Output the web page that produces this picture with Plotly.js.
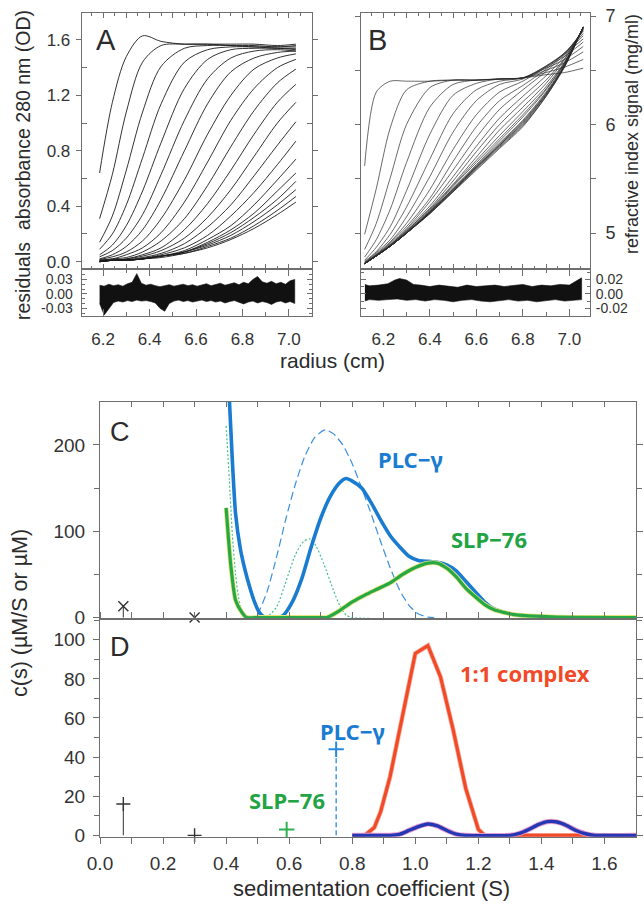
<!DOCTYPE html>
<html><head><meta charset="utf-8">
<script src="https://cdn.plot.ly/plotly-3.0.1.min.js"></script>
<style>html,body{margin:0;padding:0;background:#fff;}#chart{width:644px;height:907px;}</style>
</head><body><div id="chart"></div>
<script>
// ---------- Panel A: absorbance scans ----------
const radiusA = [6.185, 6.24, 6.30, 6.37, 6.45, 6.55, 6.65, 6.75, 6.85, 6.95, 7.03];
const scanA01 = [0.64, 1.15, 1.48, 1.63, 1.59, 1.57, 1.57, 1.57, 1.57, 1.56, 1.57];
const scanA02 = [0.31, 0.63, 1.08, 1.44, 1.56, 1.57, 1.57, 1.56, 1.56, 1.55, 1.56];
const scanA03 = [0.14, 0.33, 0.66, 1.08, 1.41, 1.54, 1.56, 1.56, 1.55, 1.55, 1.55];
const scanA04 = [0.09, 0.20, 0.41, 0.75, 1.14, 1.44, 1.53, 1.55, 1.55, 1.54, 1.54];
const scanA05 = [0.05, 0.12, 0.26, 0.51, 0.86, 1.25, 1.46, 1.53, 1.54, 1.54, 1.53];
const scanA06 = [0.035, 0.08, 0.17, 0.34, 0.63, 1.02, 1.32, 1.47, 1.52, 1.53, 1.52];
const scanA07 = [0.02, 0.05, 0.11, 0.23, 0.45, 0.80, 1.14, 1.37, 1.47, 1.51, 1.52];
const scanA08 = [0.016, 0.035, 0.07, 0.15, 0.31, 0.59, 0.92, 1.20, 1.39, 1.47, 1.50];
const scanA09 = [0.01, 0.02, 0.05, 0.10, 0.21, 0.43, 0.72, 1.02, 1.25, 1.40, 1.46];
const scanA10 = [0.01, 0.02, 0.03, 0.07, 0.15, 0.31, 0.55, 0.83, 1.09, 1.29, 1.39];
const scanA11 = [0.01, 0.01, 0.02, 0.05, 0.10, 0.23, 0.42, 0.66, 0.92, 1.15, 1.28];
const scanA12 = [0.005, 0.01, 0.02, 0.04, 0.08, 0.17, 0.32, 0.52, 0.76, 1.00, 1.15];
const scanA13 = [0.00, 0.01, 0.015, 0.03, 0.06, 0.13, 0.25, 0.41, 0.62, 0.84, 1.01];
const scanA14 = [0.00, 0.01, 0.01, 0.025, 0.05, 0.10, 0.19, 0.33, 0.50, 0.70, 0.87];
const scanA15 = [0.00, 0.01, 0.01, 0.02, 0.04, 0.08, 0.16, 0.26, 0.41, 0.59, 0.74];
const scanA16 = [0.00, 0.01, 0.01, 0.02, 0.04, 0.07, 0.14, 0.23, 0.35, 0.51, 0.64];
const scanA17 = [0.00, 0.01, 0.01, 0.02, 0.04, 0.07, 0.13, 0.21, 0.32, 0.45, 0.58];
const scanA18 = [0.00, 0.01, 0.01, 0.02, 0.04, 0.07, 0.12, 0.19, 0.29, 0.41, 0.52];
const scanA19 = [0.00, 0.01, 0.01, 0.02, 0.04, 0.06, 0.11, 0.17, 0.26, 0.37, 0.47];
const scanA20 = [0.00, 0.01, 0.01, 0.02, 0.03, 0.06, 0.10, 0.16, 0.24, 0.34, 0.43];
const scansA = [scanA01,scanA02,scanA03,scanA04,scanA05,scanA06,scanA07,scanA08,scanA09,scanA10,
                scanA11,scanA12,scanA13,scanA14,scanA15,scanA16,scanA17,scanA18,scanA19,scanA20];

// residual band of panel A (upper / lower envelope)
const resRadiusA = [6.185,6.205,6.225,6.245,6.265,6.285,6.305,6.325,6.345,6.365,6.385,6.405,6.425,6.445,6.465,6.485,6.505,6.525,6.545,6.565,6.585,6.605,6.625,6.645,6.665,6.685,6.705,6.725,6.745,6.765,6.785,6.805,6.825,6.845,6.865,6.885,6.905,6.925,6.945,6.965,6.985,7.005,7.025];
const resUpperA = [0.018,0.016,0.020,0.017,0.019,0.016,0.021,0.024,0.042,0.022,0.018,0.020,0.017,0.015,0.017,0.019,0.016,0.018,0.020,0.017,0.019,0.016,0.018,0.021,0.017,0.019,0.022,0.018,0.020,0.023,0.019,0.024,0.021,0.030,0.036,0.025,0.022,0.026,0.021,0.024,0.020,0.027,0.030];
const resLowerA = [-0.020,-0.044,-0.030,-0.018,-0.015,-0.017,-0.014,-0.016,-0.013,-0.015,-0.014,-0.016,-0.019,-0.030,-0.036,-0.020,-0.015,-0.013,-0.016,-0.014,-0.017,-0.015,-0.013,-0.016,-0.014,-0.017,-0.015,-0.019,-0.016,-0.014,-0.018,-0.021,-0.017,-0.015,-0.019,-0.016,-0.018,-0.022,-0.017,-0.015,-0.019,-0.016,-0.020];

// ---------- Panel B: refractive index scans ----------
const radiusB = [6.12, 6.17, 6.23, 6.30, 6.40, 6.50, 6.60, 6.70, 6.80, 6.90, 6.98, 7.06];
const scanB01 = [5.62, 6.30, 6.40, 6.40, 6.40, 6.41, 6.41, 6.42, 6.43, 6.46, 6.48, 6.52];
const scanB02 = [4.99, 5.41, 5.97, 6.32, 6.40, 6.41, 6.41, 6.42, 6.43, 6.48, 6.53, 6.60];
const scanB03 = [4.85, 5.09, 5.51, 6.00, 6.34, 6.41, 6.41, 6.42, 6.43, 6.50, 6.57, 6.67];
const scanB04 = [4.78, 4.94, 5.22, 5.65, 6.16, 6.37, 6.41, 6.42, 6.43, 6.52, 6.60, 6.72];
const scanB05 = [4.75, 4.87, 5.06, 5.39, 5.91, 6.27, 6.38, 6.42, 6.43, 6.53, 6.63, 6.76];
const scanB06 = [4.74, 4.83, 4.99, 5.24, 5.68, 6.10, 6.32, 6.40, 6.43, 6.54, 6.65, 6.79];
const scanB07 = [4.73, 4.82, 4.94, 5.15, 5.52, 5.93, 6.22, 6.37, 6.42, 6.54, 6.66, 6.82];
const scanB08 = [4.73, 4.81, 4.92, 5.09, 5.40, 5.77, 6.09, 6.30, 6.40, 6.53, 6.66, 6.84];
const scanB09 = [4.72, 4.80, 4.91, 5.06, 5.32, 5.66, 5.98, 6.22, 6.36, 6.51, 6.66, 6.86];
const scanB10 = [4.72, 4.80, 4.90, 5.04, 5.29, 5.58, 5.88, 6.14, 6.32, 6.49, 6.65, 6.87];
const scanB11 = [4.72, 4.80, 4.89, 5.03, 5.25, 5.52, 5.80, 6.06, 6.26, 6.45, 6.63, 6.88];
const scanB12 = [4.72, 4.79, 4.89, 5.02, 5.23, 5.48, 5.75, 6.00, 6.21, 6.41, 6.61, 6.88];
const scanB13 = [4.72, 4.79, 4.89, 5.02, 5.22, 5.45, 5.70, 5.95, 6.16, 6.38, 6.60, 6.89];
const scanB14 = [4.72, 4.79, 4.88, 5.01, 5.21, 5.44, 5.67, 5.90, 6.12, 6.35, 6.58, 6.89];
const scanB15 = [4.72, 4.79, 4.88, 5.01, 5.20, 5.43, 5.65, 5.87, 6.09, 6.33, 6.57, 6.89];
const scanB16 = [4.72, 4.79, 4.88, 5.00, 5.20, 5.41, 5.63, 5.85, 6.07, 6.32, 6.57, 6.90];
const scanB17 = [4.72, 4.79, 4.88, 5.00, 5.19, 5.41, 5.62, 5.83, 6.04, 6.30, 6.56, 6.90];
const scanB18 = [4.72, 4.79, 4.88, 5.00, 5.19, 5.40, 5.61, 5.82, 6.03, 6.29, 6.55, 6.90];
const scanB19 = [4.72, 4.79, 4.88, 5.00, 5.19, 5.40, 5.61, 5.81, 6.02, 6.28, 6.55, 6.90];
const scanB20 = [4.72, 4.79, 4.88, 5.00, 5.19, 5.39, 5.60, 5.81, 6.01, 6.28, 6.54, 6.90];
const scanB21 = [4.72, 4.79, 4.88, 5.00, 5.18, 5.39, 5.60, 5.80, 6.00, 6.27, 6.54, 6.90];
const scanB22 = [4.72, 4.79, 4.88, 5.00, 5.18, 5.38, 5.59, 5.79, 5.99, 6.26, 6.54, 6.90];
const scanB23 = [4.72, 4.79, 4.88, 5.00, 5.18, 5.38, 5.58, 5.78, 5.98, 6.26, 6.53, 6.90];
const scansB = [scanB01,scanB02,scanB03,scanB04,scanB05,scanB06,scanB07,scanB08,scanB09,scanB10,scanB11,scanB12,
                scanB13,scanB14,scanB15,scanB16,scanB17,scanB18,scanB19,scanB20,scanB21,scanB22,scanB23];

const resRadiusBU = [6.121,6.14,6.18,6.22,6.25,6.27,6.30,6.33,6.36,6.40,6.44,6.48,6.52,6.56,6.60,6.64,6.68,6.72,6.76,6.80,6.84,6.88,6.92,6.96,7.00,7.03,7.053];
const resUpperB = [0.013,0.011,0.012,0.014,0.019,0.021,0.019,0.013,0.012,0.010,0.012,0.011,0.009,0.012,0.010,0.011,0.012,0.010,0.011,0.013,0.010,0.012,0.011,0.013,0.012,0.018,0.022];
const resRadiusBL = [6.121,6.14,6.18,6.22,6.26,6.30,6.34,6.38,6.42,6.46,6.50,6.54,6.58,6.62,6.66,6.70,6.74,6.78,6.82,6.86,6.90,6.94,6.98,7.02,7.053];
const resLowerB = [-0.010,-0.008,-0.009,-0.008,-0.007,-0.009,-0.008,-0.010,-0.008,-0.009,-0.011,-0.009,-0.008,-0.010,-0.011,-0.009,-0.008,-0.010,-0.009,-0.011,-0.009,-0.008,-0.010,-0.009,-0.008];

// ---------- Panel C: c(s) of single proteins ----------
const sPlcTotal = [0.41,0.42,0.43,0.445,0.46,0.475,0.49,0.505,0.52,0.55,0.58,0.61,0.64,0.67,0.70,0.73,0.76,0.78,0.80,0.83,0.86,0.89,0.92,0.95,0.98,1.01,1.04,1.07,1.10,1.13,1.16,1.19,1.22,1.25,1.28,1.32,1.36,1.40,1.45,1.50,1.60,1.70];
const cPlcTotal = [255,180,120,80,55,35,18,6,1,0,2,18,45,82,115,140,156,161,158,150,133,113,95,82,71,66,65,64,61,54,42,30,18,10,6,3,1.5,0.8,0.3,0,0,0];
const sPlcAlone = [0.50,0.53,0.56,0.59,0.62,0.65,0.68,0.71,0.72,0.74,0.77,0.80,0.83,0.86,0.89,0.92,0.95,0.98,1.01,1.04,1.06];
const cPlcAlone = [3,30,70,115,155,187,208,217,217,213,200,178,150,120,88,58,32,14,4,0.5,0];
const sSlpAlone = [0.40,0.41,0.42,0.43,0.44,0.45,0.47,0.50,0.53,0.56,0.59,0.62,0.645,0.665,0.685,0.71,0.74,0.76,0.78,0.80,1.70];
const cSlpAlone = [222,160,95,50,22,8,1,0,1,12,42,73,88,91,83,62,32,14,3,0,0];
const sSlpTotal = [0.40,0.415,0.43,0.45,0.465,0.50,0.60,0.70,0.72,0.76,0.80,0.84,0.88,0.92,0.96,1.00,1.04,1.07,1.10,1.13,1.16,1.19,1.22,1.25,1.28,1.32,1.38,1.45,1.70];
const cSlpTotal = [127,60,20,6,0,0,0,0,0,8,18,26,33,40,50,58,63,63,57,47,34,24,15,9,6,3,1.5,0.5,0];
const sSticksC = [0.074, 0.30];
const cSticksC = [13, 0];

// ---------- Panel D: c(s) of the mixture ----------
const sComplex = [0.80,0.84,0.87,0.89,0.92,0.96,1.00,1.04,1.08,1.12,1.16,1.20,1.22,1.70];
const cComplex = [0,0,4,12,30,62,93,97,81,54,24,3,0,0];
const sMixBlue = [0.80,0.92,0.95,0.98,1.01,1.04,1.07,1.10,1.13,1.16,1.30,1.33,1.36,1.39,1.42,1.45,1.48,1.51,1.54,1.57,1.70];
const cMixBlue = [0,0,0.5,2.5,4.5,5.8,4.8,2.5,0.6,0,0,1,3,5.5,7,6.8,5,2.5,0.8,0,0];
const sSticksD = [0.074, 0.30];
const cSticksD = [16, 0];
const sSlpPeakD = [0.592], cSlpPeakD = [3];
const sPlcPeakD = [0.749], cPlcPeakD = [44];

// tick labels
const tickValsA = [0, 0.4, 0.8, 1.2, 1.6], tickTextA = ['0.0','0.4','0.8','1.2','1.6'];
const tickValsR = [6.2, 6.4, 6.6, 6.8, 7.0], tickTextR = ['6.2','6.4','6.6','6.8','7.0'];
const tickValsResA = [-0.03, 0, 0.03], tickTextResA = ['-0.03','0.00','0.03'];
const tickValsB = [5, 6, 7], tickTextB = ['5','6','7'];
const tickValsResB = [-0.02, 0, 0.02], tickTextResB = ['-0.02','0.00','0.02'];
const tickValsS = [0,0.2,0.4,0.6,0.8,1.0,1.2,1.4,1.6], tickTextS = ['0.0','0.2','0.4','0.6','0.8','1.0','1.2','1.4','1.6'];
const tickValsC = [0, 100, 200], tickValsD = [0, 20, 40, 60, 80, 100];

// ---------- build ----------
const F = 'Liberation Sans, Arial, sans-serif';
const FB = 'Noto Sans, DejaVu Sans, sans-serif';
const traces = [];
function ln(x, y, xa, ya, color, width, extra) {
  return Object.assign({x: x, y: y, xaxis: xa, yaxis: ya, mode: 'lines', hoverinfo: 'skip',
    showlegend: false, line: {color: color, width: width}}, extra || {});
}
scansA.forEach(s => traces.push(ln(radiusA, s, 'x', 'y', '#1c1c1c', 0.9, {line:{color:'#1c1c1c', width:0.9, shape:'spline', smoothing:0.9}})));
traces.push(ln(resRadiusA.concat(resRadiusA.slice().reverse()), resUpperA.concat(resLowerA.slice().reverse()),
  'x2', 'y2', '#111', 0.6, {fill:'toself', fillcolor:'#111'}));
scansB.forEach(s => traces.push(ln(radiusB, s, 'x3', 'y3', '#2a2a2a', 0.7, {line:{color:'#2a2a2a', width:0.7, shape:'spline', smoothing:0.8}})));
traces.push(ln(resRadiusBU.concat(resRadiusBL.slice().reverse()), resUpperB.concat(resLowerB.slice().reverse()),
  'x4', 'y4', '#111', 0.6, {fill:'toself', fillcolor:'#111'}));

// C
traces.push(ln(sPlcAlone, cPlcAlone, 'x5', 'y5', '#3b8fe0', 1.2, {line:{color:'#3b8fe0', width:1.2, dash:'8px,4px', shape:'spline', smoothing:0.6}}));
traces.push(ln(sSlpAlone, cSlpAlone, 'x5', 'y5', '#45c08a', 1.2, {line:{color:'#45c08a', width:1.2, dash:'2px,2px', shape:'spline', smoothing:0.6}}));
traces.push(ln(sPlcTotal, cPlcTotal, 'x5', 'y5', '#1a7cd0', 3.6, {line:{color:'#1a7cd0', width:3.6, shape:'spline', smoothing:0.6}}));
traces.push(ln(sSlpTotal, cSlpTotal, 'x5', 'y5', '#e4e47a', 4.8, {line:{color:'#e4e47a', width:4.8, shape:'spline', smoothing:0.6}}));
traces.push(ln(sSlpTotal, cSlpTotal, 'x5', 'y5', '#27a846', 3.2, {line:{color:'#27a846', width:3.2, shape:'spline', smoothing:0.6}}));
const stemCx = [], stemCy = [];
sSticksC.forEach((s, i) => { stemCx.push(s, s, null); stemCy.push(0, cSticksC[i], null); });
traces.push(ln(stemCx, stemCy, 'x5', 'y5', '#444', 1.1, {cliponaxis:false}));
traces.push({x: sSticksC, y: cSticksC, xaxis:'x5', yaxis:'y5', mode:'markers', hoverinfo:'skip', showlegend:false, cliponaxis:false,
  marker:{symbol:'x-thin', size:10, color:'#333', line:{width:1.4, color:'#333'}}});

// D
traces.push(ln(sComplex, cComplex, 'x6', 'y6', '#f8b0a0', 4.8, {cliponaxis:false}));
traces.push(ln(sComplex, cComplex, 'x6', 'y6', '#f04a28', 3.2, {cliponaxis:false}));
traces.push(ln(sMixBlue, cMixBlue, 'x6', 'y6', '#e79ad0', 5.2, {cliponaxis:false, line:{color:'#e79ad0', width:5.2, shape:'spline', smoothing:0.5}}));
traces.push(ln(sMixBlue, cMixBlue, 'x6', 'y6', '#2438b4', 3.4, {cliponaxis:false, line:{color:'#2438b4', width:3.4, shape:'spline', smoothing:0.5}}));
const stemDx = [], stemDy = [];
sSticksD.forEach((s, i) => { stemDx.push(s, s, null); stemDy.push(0, cSticksD[i], null); });
traces.push(ln(stemDx, stemDy, 'x6', 'y6', '#444', 1.1, {cliponaxis:false}));
traces.push({x: sSticksD, y: cSticksD, xaxis:'x6', yaxis:'y6', mode:'markers', hoverinfo:'skip', showlegend:false, cliponaxis:false,
  marker:{symbol:'cross-thin', size:10, color:'#333', line:{width:1.4, color:'#333'}}});
traces.push(ln([sPlcPeakD[0], sPlcPeakD[0]], [0, cPlcPeakD[0]], 'x6', 'y6', '#2a8ae0', 1.3, {cliponaxis:false, line:{color:'#2a8ae0', width:1.3, dash:'5px,3px'}}));
traces.push({x: sPlcPeakD, y: cPlcPeakD, xaxis:'x6', yaxis:'y6', mode:'markers', hoverinfo:'skip', showlegend:false, cliponaxis:false,
  marker:{symbol:'cross-thin', size:11, color:'#2a8ae0', line:{width:2, color:'#2a8ae0'}}});
traces.push({x: sSlpPeakD, y: cSlpPeakD, xaxis:'x6', yaxis:'y6', mode:'markers', hoverinfo:'skip', showlegend:false, cliponaxis:false,
  marker:{symbol:'cross-thin', size:11, color:'#30b050', line:{width:2, color:'#30b050'}}});

// ---------- axes ----------
const LC = '#6f6f6f';
function ax(o) {
  return Object.assign({showline:true, linecolor:LC, linewidth:1, mirror:'allticks', zeroline:false, showgrid:false,
    tickcolor:LC, tickwidth:1, tickfont:{family:F, size:17, color:'#333'}, fixedrange:true}, o);
}
const px = v => v / 644, py = v => 1 - v / 907;
const domAx = [px(81.7), px(311.7)], domBx = [px(360.7), px(590)];
const domMainY = [py(269.3), py(12.7)], domResY = [py(316), py(269.3)];
const domCDx = [px(100), px(636)];
const domCy = [py(618.8), py(401.7)], domDy = [py(836.7), py(618.8)];

const layout = {
  width: 644, height: 907, margin: {l:0, r:0, t:0, b:0}, paper_bgcolor:'#fff', plot_bgcolor:'#fff',
  showlegend: false, font: {family: F, color: '#333'},
  xaxis: ax({domain: domAx, range: [6.108, 7.098], anchor:'y', ticks:'inside', tick0:6.2, dtick:0.1, ticklen:5, showticklabels:false,
    minor:{dtick:0.05, tick0:6.2, ticks:'inside', ticklen:3, tickcolor:LC}}),
  yaxis: ax({domain: domMainY, range: [-0.055, 1.797], anchor:'x', tickmode:'array', tickvals:tickValsA, ticktext:tickTextA,
    ticks:'outside', ticklen:5, ticklabelstandoff:2, minor:{tickmode:'array', tickvals:[0.2,0.6,1.0,1.4], ticks:'inside', ticklen:5, tickcolor:LC}}),
  xaxis2: ax({domain: domAx, range: [6.108, 7.098], anchor:'y2', tickmode:'array', tickvals:tickValsR, ticktext:tickTextR,
    ticks:'inside', ticklen:7, ticklabelstandoff:8, minor:{tickmode:'array', tickvals:[6.3,6.5,6.7,6.9], ticks:'inside', ticklen:4, tickcolor:LC}}),
  yaxis2: ax({domain: domResY, range: [-0.046, 0.051], anchor:'x2', tickmode:'array', tickvals:tickValsResA, ticktext:tickTextResA,
    ticks:'inside', ticklen:5, ticklabelstandoff:5, tickfont:{family:F, size:14, color:'#333'},
    minor:{tickmode:'array', tickvals:[-0.04,-0.02,-0.01,0.01,0.02,0.04], ticks:'inside', ticklen:3, tickcolor:LC}}),
  xaxis3: ax({domain: domBx, range: [6.103, 7.089], anchor:'y3', ticks:'inside', tick0:6.2, dtick:0.1, ticklen:5, showticklabels:false,
    minor:{dtick:0.05, tick0:6.2, ticks:'inside', ticklen:3, tickcolor:LC}}),
  yaxis3: ax({domain: domMainY, range: [4.667, 7.031], anchor:'x3', side:'right', tickmode:'array', tickvals:tickValsB, ticktext:tickTextB,
    ticks:'outside', ticklen:5, ticklabelstandoff:6, tickfont:{family:F, size:18, color:'#333'},
    minor:{tickmode:'array', tickvals:[5.5, 6.5], ticks:'outside', ticklen:5, tickcolor:LC}}),
  xaxis4: ax({domain: domBx, range: [6.103, 7.089], anchor:'y4', tickmode:'array', tickvals:tickValsR, ticktext:tickTextR,
    ticks:'inside', ticklen:7, ticklabelstandoff:8, minor:{tickmode:'array', tickvals:[6.3,6.5,6.7,6.9], ticks:'inside', ticklen:4, tickcolor:LC}}),
  yaxis4: ax({domain: domResY, range: [-0.0306, 0.0338], anchor:'x4', side:'right', tickmode:'array', tickvals:tickValsResB, ticktext:tickTextResB,
    ticks:'inside', ticklen:5, ticklabelstandoff:2, tickfont:{family:F, size:14, color:'#333'},
    minor:{tickmode:'array', tickvals:[-0.01, 0.01, 0.03], ticks:'inside', ticklen:3, tickcolor:LC}}),
  xaxis5: ax({domain: domCDx, range: [0, 1.7], anchor:'y5', ticks:'inside', tick0:0, dtick:0.1, ticklen:5, showticklabels:false}),
  yaxis5: ax({domain: domCy, range: [-1.5, 250], anchor:'x5', tickmode:'array', tickvals:tickValsC, ticks:'outside', ticklen:6,
    ticklabelstandoff:4, tickfont:{family:F, size:19, color:'#333'},
    minor:{tickmode:'array', tickvals:[50,150], ticks:'outside', ticklen:5, tickcolor:LC}}),
  xaxis6: ax({domain: domCDx, range: [0, 1.7], anchor:'y6', tickmode:'array', tickvals:tickValsS, ticktext:tickTextS,
    ticks:'outside', ticklen:6, ticklabelstandoff:3, tickfont:{family:F, size:19, color:'#333'},
    minor:{tickmode:'array', tickvals:[0.1,0.3,0.5,0.7,0.9,1.1,1.3,1.5], ticks:'outside', ticklen:6, tickcolor:LC}}),
  yaxis6: ax({domain: domDy, range: [-0.7, 110.7], anchor:'x6', tickmode:'array', tickvals:tickValsD, ticks:'outside', ticklen:6,
    ticklabelstandoff:4, tickfont:{family:F, size:19, color:'#333'},
    minor:{tickmode:'array', tickvals:[10,30,50,70,90,110], ticks:'outside', ticklen:5, tickcolor:LC}}),
  annotations: []
};
function ann(text, x, y, size, opts) {
  layout.annotations.push(Object.assign({text: text, x: px(x), y: py(y), xref:'paper', yref:'paper', xanchor:'center', yanchor:'middle',
    showarrow:false, font:{family:F, size:size, color:'#2b2b2b'}}, opts || {}));
}
ann('A', 106, 40, 29); ann('B', 377, 40, 29); ann('C', 120, 432, 27); ann('D', 120, 647, 27);
ann('absorbance 280 nm (OD)', 23, 120, 19.5, {textangle:-90});
ann('residuals', 23, 281, 19.5, {textangle:-90});
ann('refractive index signal (mg/ml)', 632, 134, 18, {textangle:-90});
ann('radius (cm)', 332, 360, 21);
ann('c(s) (µM/S or µM)', 20, 613, 21.5, {textangle:-90});
ann('sedimentation coefficient (S)', 371, 888, 22);
ann('<b>PLC−γ</b>', 410, 459, 22, {font:{family:FB, size:22, color:'#1a7cd0'}});
ann('<b>SLP−76</b>', 489, 539, 22, {font:{family:FB, size:22, color:'#22a444'}});
ann('<b>PLC−γ</b>', 352, 731, 22, {font:{family:FB, size:22, color:'#1a7cd0'}});
ann('<b>SLP−76</b>', 287, 800, 22, {font:{family:FB, size:22, color:'#22a444'}});
ann('<b>1:1 complex</b>', 525, 673, 22, {font:{family:FB, size:22, color:'#f04a28'}});

Plotly.newPlot('chart', traces, layout, {displayModeBar:false, staticPlot:true});
</script></body></html>
